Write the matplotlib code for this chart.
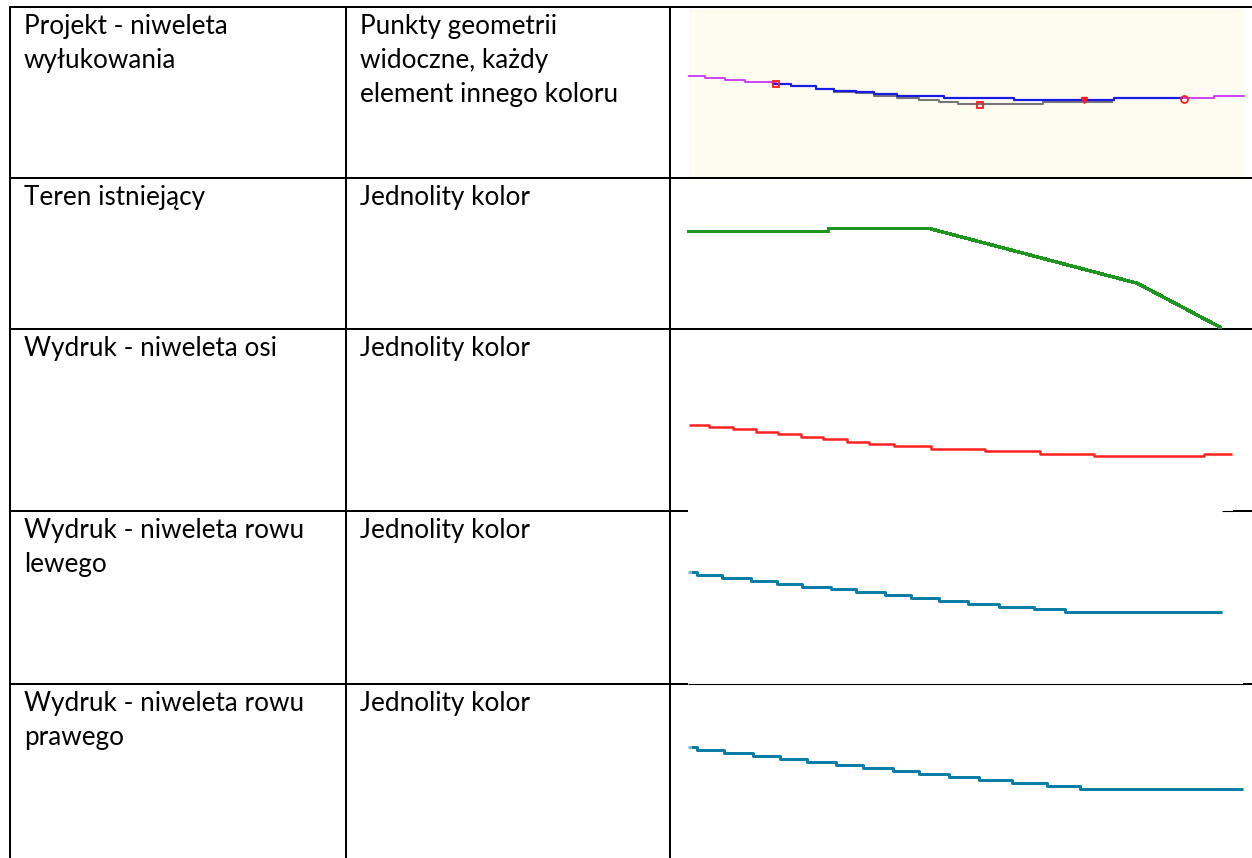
import matplotlib
matplotlib.use('Agg')
import matplotlib.pyplot as plt
from matplotlib.patches import Rectangle

plt.rcParams['font.family'] = ['Lato', 'DejaVu Sans']

# table text
col1_text = [
    ["Projekt - niweleta", "wyłukowania"],
    ["Teren istniejący"],
    ["Wydruk - niweleta osi"],
    ["Wydruk - niweleta rowu", "lewego"],
    ["Wydruk - niweleta rowu", "prawego"],
]
col2_text = [
    ["Punkty geometrii", "widoczne, każdy", "element innego koloru"],
    ["Jednolity kolor"],
    ["Jednolity kolor"],
    ["Jednolity kolor"],
    ["Jednolity kolor"],
]

# sample lines (pixel units of the page)
# row 1 - projekt
mag_left_x = [689, 705, 725, 744.5, 775.5]
mag_left_y = [76, 78, 80, 82, 82]
mag_right_x = [1183.5, 1214, 1244]
mag_right_y = [98, 95.7, 95.7]
blue_x = [772.6, 790.7, 816, 834, 855.7, 873.7, 897, 944, 1013.8, 1113.8, 1182]
blue_y = [84, 86.3, 88.7, 90.7, 92.3, 94.3, 96.3, 98, 99.7, 98, 98]
gray_x = [834, 856, 874, 897, 919, 939, 957.5, 1043, 1112]
gray_y = [91.5, 93, 95.5, 97.7, 100, 102, 104.3, 102.3, 102.3]
pts_x = [775.5, 979.5, 1084, 1183.5]
pts_y = [84, 105, 100, 99]
pts_m = ['s', 's', 'v', 'o']

# row 2 - teren
teren_x = [689, 828, 829, 928.6, 1137.3, 1220.3]
teren_y = [231.7, 231.7, 228.3, 228.3, 283.3, 327.3]

# row 3 - os
os_x = [688.6, 709.4, 733, 755.5, 777.5, 801.2, 823.3, 847.4, 869.4, 893.6,
        931.4, 984.6, 1039.9, 1093.6, 1203.7, 1232.4]
os_y = [424.7, 427, 429.3, 432, 434.3, 436.7, 439, 441.7, 444, 446.3,
        448.7, 451.3, 453.7, 456, 453.7, 453.7]

# row 4 - rów lewy
lewy_x = [691, 696.8, 722.1, 751, 777, 801.9, 831.1, 856, 884.9, 910.9, 939,
          968, 999, 1034, 1065, 1222]
lewy_y = [572.3, 575.3, 578.3, 581.3, 584.3, 587, 589.3, 592.3, 595.3, 598.3,
          601.3, 604.3, 606.7, 609.3, 612.3, 612.3]

# row 5 - rów prawy
prawy_x = [691, 696.8, 723.9, 753.1, 779.9, 806.9, 836.2, 862.9, 892.9, 918.9,
           949.2, 979.1, 1012, 1047, 1080.2, 1243]
prawy_y = [747.3, 750.3, 753.3, 756.3, 759.3, 762.3, 765.3, 768.3, 771.3,
           774.3, 777.3, 780.3, 783.3, 786.3, 789.3, 789.3]

# layout
row_tops = [7, 177.5, 329, 511, 684]
col_lines = [10, 346, 670]

fig = plt.figure(figsize=(12.52, 8.58), dpi=100)
ax = fig.add_axes([0, 0, 1, 1])
ax.set_xlim(0, 1252)
ax.set_ylim(858, 0)
ax.axis('off')

lw_tab = 1.44
for x in col_lines:
    ax.plot([x, x], [6, 858], color='black', lw=lw_tab, solid_capstyle='butt')
for y in row_tops[:3]:
    ax.plot([9, 1252], [y, y], color='black', lw=lw_tab, solid_capstyle='butt')
ax.plot([9, 688], [511, 511], color='black', lw=lw_tab, solid_capstyle='butt')
ax.plot([1222, 1233], [511, 511], color='black', lw=0.8, solid_capstyle='butt')
ax.plot([1233, 1252], [511, 511], color='black', lw=lw_tab, solid_capstyle='butt')
ax.plot([9, 688], [684, 684], color='black', lw=lw_tab, solid_capstyle='butt')
ax.plot([688, 1243], [684, 684], color='black', lw=0.8, solid_capstyle='butt')
ax.plot([1243, 1252], [684, 684], color='black', lw=lw_tab, solid_capstyle='butt')

# cream background of the first sample
ax.add_patch(Rectangle((689, 8.5), 555, 168, facecolor='#fefcf1', edgecolor='none', zorder=0))

# texts
fs = 18.8
for top, lines in zip(row_tops, col1_text):
    for i, t in enumerate(lines):
        ax.text(24, top + 27 + i * 34, t, fontsize=fs, va='baseline', ha='left')
for top, lines in zip(row_tops, col2_text):
    for i, t in enumerate(lines):
        ax.text(360, top + 27 + i * 34, t, fontsize=fs, va='baseline', ha='left')

# row 1 sample
ax.step(gray_x, gray_y, where='post', color='#777777', lw=1.5)
ax.step(blue_x, blue_y, where='post', color='#1a1ae6', lw=1.6)
ax.step(mag_left_x, mag_left_y, where='post', color='#cc33ff', lw=1.3)
ax.step(mag_right_x, mag_right_y, where='post', color='#cc33ff', lw=1.3)
for px, py, m in zip(pts_x, pts_y, pts_m):
    if m == 'v':
        ax.plot(px, py, marker=m, color='#ff1a1a', ms=4, mec='#ff1a1a')
    else:
        ax.plot(px, py, marker=m, color='#ff1a1a', ms=5, mfc='none', mew=1.3)

# row 2 sample
ax.plot(teren_x, teren_y, color='#1f961f', lw=1.8, antialiased=False)

# row 3 sample
ax.step(os_x, os_y, where='post', color='#ff2020', lw=1.8, solid_capstyle='butt')

# rows 4, 5 samples
ax.step(lewy_x, lewy_y, where='post', color='#0a7ea6', lw=2.16, solid_capstyle='butt')
ax.plot([688, 691], [572.3, 572.3], color='#7fb8d0', lw=2.16, solid_capstyle='butt')
ax.step(prawy_x, prawy_y, where='post', color='#0a7ea6', lw=2.16, solid_capstyle='butt')
ax.plot([688, 691], [747.3, 747.3], color='#7fb8d0', lw=2.16, solid_capstyle='butt')

plt.savefig('out.png', dpi=100)
plt.close()
